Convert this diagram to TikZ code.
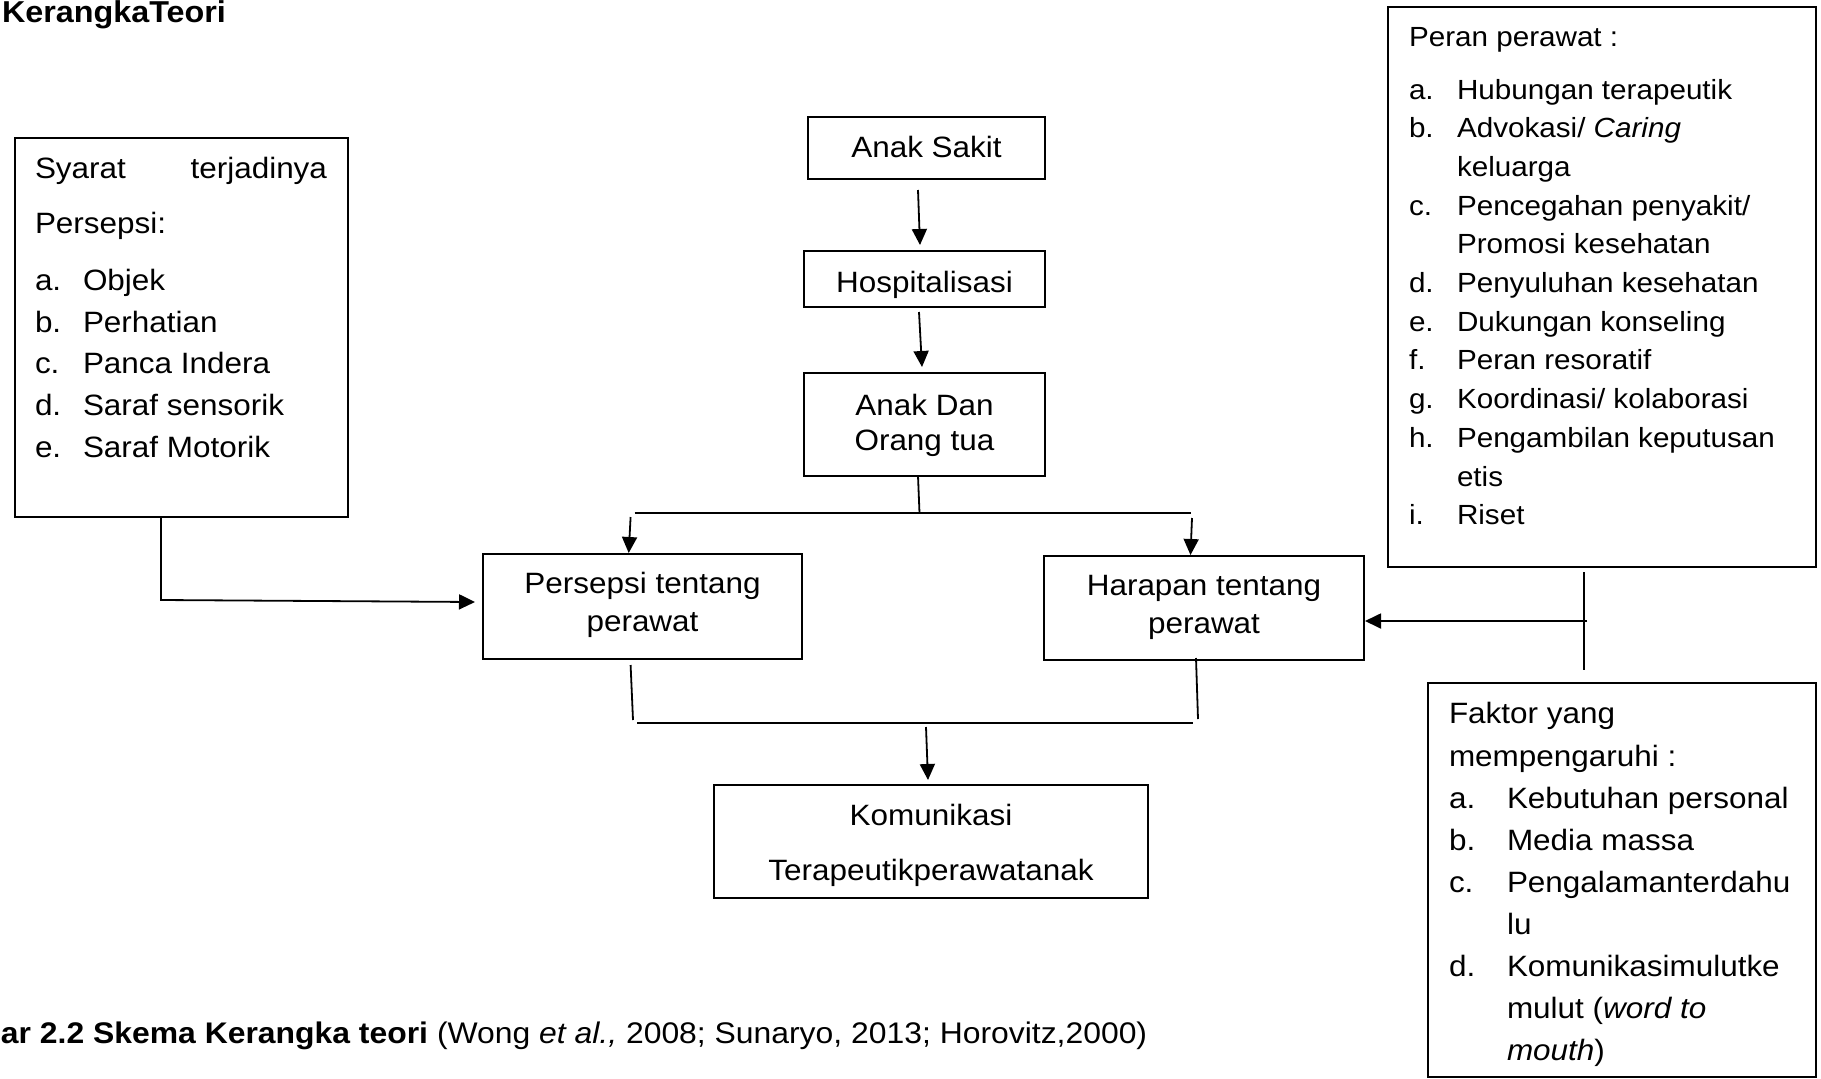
\documentclass[tikz,border=0pt]{standalone}
\usepackage{fontspec}
\setmainfont{Liberation Sans}[FakeStretch=1.07]
\usetikzlibrary{arrows.meta}
\begin{document}
\begin{tikzpicture}[x=1pt,y=-1pt,
  box/.style={draw, line width=1.8pt, inner sep=0pt, outer sep=0pt},
  txt/.style={inner sep=0pt, outer sep=0pt, anchor=base west, font=\fontsize{29.4}{34}\selectfont},
  ctxt/.style={txt, anchor=base},
  stxt/.style={txt, font=\fontsize{27.7}{32}\selectfont},
  ln/.style={line width=1.8pt},
  arr/.style={ln, -{Triangle[length=16pt,width=15pt]}}]
\fill[white] (0,0) rectangle (1821,1079);
\useasboundingbox (0,0) rectangle (1821,1079);

% title
\node[txt, font=\fontsize{30.2}{34}\selectfont\bfseries] (title) at (2,22.5) {KerangkaTeori};

% boxes
\node[box, minimum width=333pt, minimum height=379pt] (syarat) at (181.5,327.5) {};
\node[box, minimum width=237pt, minimum height=62pt] (as) at (926.5,148) {};
\node[box, minimum width=241pt, minimum height=56pt] (hosp) at (924.5,279) {};
\node[box, minimum width=241pt, minimum height=103pt] (adot) at (924.5,424.5) {};
\node[box, minimum width=319pt, minimum height=105pt] (pers) at (642.5,606.5) {};
\node[box, minimum width=320pt, minimum height=104pt] (harp) at (1204,608) {};
\node[box, minimum width=434pt, minimum height=113pt] (komu) at (931,841.5) {};
\node[box, minimum width=428pt, minimum height=560pt] (peran) at (1602,287) {};
\node[box, minimum width=388pt, minimum height=394pt] (faktor) at (1622,880) {};

% left box text
\node[txt] (s0) at (35,178) {\makebox[292pt]{Syarat\hfill terjadinya}};
\node[txt] (s1) at (35,233) {Persepsi:};
\foreach \i/\l/\t/\y in {1/a./Objek/290, 2/b./Perhatian/332, 3/c./Panca Indera/373.5, 4/d./Saraf sensorik/415, 5/e./Saraf Motorik/457}{
  \node[txt] (sk\i) at (35,\y) {\l};
  \node[txt] (st\i) at (83,\y) {\t};
}

% centre texts
\node[ctxt] (t-as) at (926.5,157) {Anak Sakit};
\node[ctxt] (t-hosp) at (924.5,292) {Hospitalisasi};
\node[ctxt] (t-adot1) at (924.5,415) {Anak Dan};
\node[ctxt] (t-adot2) at (924.5,450) {Orang tua};
\node[ctxt] (t-pers1) at (642.5,593) {Persepsi tentang};
\node[ctxt] (t-pers2) at (642.5,631) {perawat};
\node[ctxt] (t-harp1) at (1204,595) {Harapan tentang};
\node[ctxt] (t-harp2) at (1204,633) {perawat};
\node[ctxt] (t-komu1) at (931,825) {Komunikasi};
\node[ctxt] (t-komu2) at (931,880) {Terapeutikperawatanak};

% peran box text
\node[stxt] (p0) at (1409,46) {Peran perawat :};
\foreach \i/\l/\t in {0/a./{Hubungan terapeutik}, 1/b./{Advokasi/ \textit{Caring}}, 2//{keluarga}, 3/c./{Pencegahan penyakit/}, 4//{Promosi kesehatan}, 5/d./{Penyuluhan kesehatan}, 6/e./{Dukungan konseling}, 7/f./{Peran resoratif}, 8/g./{Koordinasi/ kolaborasi}, 9/h./{Pengambilan keputusan}, 10//{etis}, 11/i./{Riset}}{
  \pgfmathsetmacro{\yy}{99+38.7*\i}
  \node[stxt] (pk\i) at (1409,\yy) {\l};
  \node[stxt] (pt\i) at (1457,\yy) {\t};
}

% faktor box text
\node[txt] (f0) at (1449,723) {Faktor yang};
\node[txt] (f1) at (1449,766) {mempengaruhi :};
\foreach \i/\l/\t/\y in {2/a./{Kebutuhan personal}/808, 3/b./{Media massa}/850, 4/c./{Pengalamanterdahu}/892, 5//{lu}/934, 6/d./{Komunikasimulutke}/976, 7//{mulut (\textit{word to}}/1018, 8//{\textit{mouth})}/1060}{
  \node[txt] (fk\i) at (1449,\y) {\l};
  \node[txt] (ft\i) at (1507,\y) {\t};
}

% caption
\node[txt, font=\fontsize{29.8}{34}\selectfont] (cap) at (1,1043) {\textbf{ar 2.2 Skema Kerangka teori} (Wong \textit{et al.,} 2008; Sunaryo, 2013; Horovitz,2000)};

% connectors
\draw[arr] ([xshift=-8.5pt,yshift=-11pt]as.south) -- ([xshift=-4.5pt,yshift=6pt]hosp.north);
\draw[arr] ([xshift=-5.5pt,yshift=-5pt]hosp.south) -- ([xshift=-2.5pt,yshift=6pt]adot.north);

\coordinate (j1) at (919.5,513);
\coordinate (j1l) at (634.5,513);
\coordinate (j1r) at (1191,513);
\draw[ln] ([xshift=-6.5pt]adot.south) -- (j1);
\draw[ln] (j1l) -- (j1r);
\coordinate (a1s) at (630.6,517);
\coordinate (a2s) at (1192,518);
\draw[arr] (a1s) -- ([xshift=-13.8pt,yshift=1pt]pers.north);
\draw[arr] (a2s) -- ([xshift=-13.5pt,yshift=1pt]harp.north);

\coordinate (b1e) at (633,720);
\coordinate (b2e) at (1198,719);
\coordinate (b3l) at (637,722.7);
\coordinate (b3r) at (1193,722.7);
\coordinate (b4s) at (926,727);
\draw[ln] ([xshift=-11.9pt,yshift=-6pt]pers.south) -- (b1e);
\draw[ln] ([xshift=-8pt,yshift=2pt]harp.south) -- (b2e);
\draw[ln] (b3l) -- (b3r);
\draw[arr] (b4s) -- ([xshift=-3pt,yshift=5pt]komu.north);

\coordinate (lc) at (161,600);
\draw[arr] ([xshift=-20.5pt]syarat.south) -- (lc) -- ([xshift=-8pt,yshift=4.5pt]pers.west);

\coordinate (rv) at (1584,670);
\coordinate (rs) at (1587,621);
\draw[ln] ([xshift=-18pt,yshift=-5pt]peran.south) -- (rv);
\draw[arr] (rs) -- ([xshift=1pt,yshift=-13pt]harp.east);
\end{tikzpicture}
\end{document}
